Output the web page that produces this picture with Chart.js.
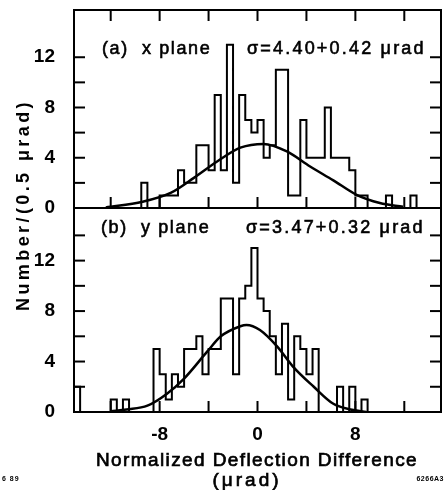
<!DOCTYPE html>
<html>
<head>
<meta charset="utf-8">
<script src="https://cdn.jsdelivr.net/npm/chart.js@4.4.1/dist/chart.umd.min.js"></script>
<style>
  html, body { margin: 0; padding: 0; background: #fff; }
  #wrap { width: 444px; height: 490px; }
</style>
</head>
<body>
<div id="wrap"><canvas id="chart-deflection"></canvas></div>
<script>
// histogram bins are 0.5 urad wide, first left edge at -15
const binStart = -15;
const binWidth = 0.5;

// (a) x plane, counts per bin from -15 to +15
const countsX = [
  0, 0, 0, 0, 0, 0, 0, 0, 0, 0,
  0, 2, 0, 0, 1, 1, 1, 3, 2, 2,
  5, 5, 3, 9, 3, 13, 2, 9, 7, 6,
  7, 4, 5, 11, 11, 1, 1, 7, 4, 4,
  4, 8, 4, 4, 4, 3, 1, 1, 0, 0,
  0, 1, 0, 0, 0, 1, 0, 0, 0, 0
];

// (b) y plane, counts per bin from -15 to +15
const countsY = [
  2, 0, 0, 0, 0, 0, 1, 0, 1, 0,
  0, 0, 0, 5, 3, 1, 3, 2, 5, 5,
  6, 3, 5, 5, 9, 9, 3, 9, 10, 13,
  9, 8, 6, 3, 7, 1, 6, 5, 3, 5,
  0, 0, 0, 2, 0, 2, 0, 1, 0, 0,
  0, 0, 0, 0, 0, 0, 0, 0, 0, 0
];

// fitted gaussians, points
const fitXpos = [-12.4, -9.4, -7.1, -5.2, -3.3, -1.4, 0.5, 2.4, 4.3, 6.2, 8.1, 10.0, 11.9];
const fitXval = [0.05, 0.5, 1.2, 2.4, 3.7, 4.8, 5.1, 4.5, 3.3, 2.2, 1.05, 0.4, 0.1];
const fitYpos = [-12.0, -10.7, -9.0, -7.4, -6.0, -4.1, -3.0, -1.4, -0.9, 0.2, 1.6, 2.9, 4.6, 6.2, 7.6, 8.9];
const fitYval = [0.05, 0.2, 0.5, 1.45, 2.65, 4.8, 6.0, 6.8, 6.9, 6.5, 5.2, 3.6, 2.0, 0.65, 0.2, 0.0];

// axis ticks
const xTicks = [-12, -8, -4, 0, 4, 8, 12];
const xTickLabels = [-8, 0, 8];
const yTicksTop = [2, 4, 6, 8, 10, 12];
const yTicksBottom = [2, 4, 6, 8, 10, 12, 14];
const yTickLabels = [0, 4, 8, 12];

const FONT = '"Liberation Sans", Arial, Helvetica, sans-serif';

// build step outline points: left edge of every bin, closed back to 0 at the end
function histPoints(counts) {
  const pts = [{ x: binStart, y: 0 }];
  counts.forEach((c, i) => pts.push({ x: binStart + i * binWidth, y: c }));
  pts.push({ x: binStart + counts.length * binWidth, y: 0 });
  return pts;
}

function curvePoints(xs, ys) {
  return xs.map((x, i) => ({ x: x, y: ys[i] }));
}

function yAxis(weight, max) {
  return {
    type: "linear",
    position: "left",
    stack: "panels",
    stackWeight: weight,
    min: 0,
    max: max,
    grid: { display: false },
    border: { display: false },
    ticks: {
      stepSize: 2,
      includeBounds: false,
      autoSkip: false,
      padding: 11,
      color: "#000",
      font: { family: FONT, size: 19, weight: "bold" },
      callback: (v) => (yTickLabels.includes(v) ? String(v) : ""),
    },
    afterFit: (s) => {
      s.width = 74;
      s.paddingTop = 0;
      s.paddingBottom = 0;
    },
  };
}

// text with tracking, stroked lightly so it reads as heavy as the scan
function drawSpaced(ctx, text, x, y, font, spacing, align, heavy) {
  ctx.font = font;
  ctx.letterSpacing = spacing + "px";
  ctx.textAlign = align || "left";
  ctx.fillText(text, x, y);
  if (heavy) {
    ctx.lineWidth = heavy;
    ctx.strokeText(text, x, y);
  }
  ctx.letterSpacing = "0px";
}

// frame, inward ticks and the free text
const frameAndText = {
  id: "frameAndText",
  afterDraw(chart) {
    const { ctx, chartArea: a, scales } = chart;
    const sx = scales.x, yT = scales.yTop, yB = scales.yBottom;
    const yDiv = yT.getPixelForValue(0);
    const len = 11;
    const line = (x1, y1, x2, y2) => {
      ctx.beginPath();
      ctx.moveTo(x1, y1);
      ctx.lineTo(x2, y2);
      ctx.stroke();
    };
    ctx.save();
    ctx.strokeStyle = "#000";
    ctx.lineWidth = 2;
    ctx.strokeRect(a.left, a.top, a.right - a.left, a.bottom - a.top);
    line(a.left, yDiv, a.right, yDiv);
    xTicks.forEach((v) => {
      const px = sx.getPixelForValue(v);
      line(px, a.top, px, a.top + len);
      line(px, yDiv, px, yDiv - len);
      line(px, a.bottom, px, a.bottom - len);
    });
    yTicksTop.forEach((v) => {
      const py = yT.getPixelForValue(v);
      line(a.left, py, a.left + len, py);
      line(a.right, py, a.right - len, py);
    });
    yTicksBottom.forEach((v) => {
      const py = yB.getPixelForValue(v);
      line(a.left, py, a.left + len, py);
      line(a.right, py, a.right - len, py);
    });

    ctx.fillStyle = "#000";
    ctx.textBaseline = "alphabetic";
    // panel labels
    drawSpaced(ctx, "(a)  x plane", a.left + 28, a.top + 44, "18px " + FONT, 1.6, "left", 0.6);
    drawSpaced(ctx, "\u03c3=4.40+0.42 \u03bcrad", a.left + 173, a.top + 44, "18px " + FONT, 2.2, "left", 0.6);
    drawSpaced(ctx, "(b)  y plane", a.left + 27, yDiv + 25, "18px " + FONT, 1.6, "left", 0.6);
    drawSpaced(ctx, "\u03c3=3.47+0.32 \u03bcrad", a.left + 172, yDiv + 25, "18px " + FONT, 2.2, "left", 0.6);

    // x axis title
    drawSpaced(ctx, "Normalized Deflection Difference", 257, 466, "19px " + FONT, 1.4, "center", 0.7);
    drawSpaced(ctx, "(\u03bcrad)", 247, 486, "19px " + FONT, 3, "center", 0.7);

    // y axis title
    ctx.save();
    ctx.translate(29, 205);
    ctx.rotate(-Math.PI / 2);
    drawSpaced(ctx, "Number/(0.5 \u03bcrad)", 0, 0, "bold 18px " + FONT, 3.4, "center");
    ctx.restore();

    // corner marks
    drawSpaced(ctx, "6 89", 2, 481, "bold 7px " + FONT, 1, "left");
    drawSpaced(ctx, "6266A3", 444, 481, "bold 7px " + FONT, 0.5, "right");
    ctx.restore();
  },
};

const ctxDeflection = document.getElementById("chart-deflection");
new Chart(ctxDeflection, {
  type: "line",
  data: {
    datasets: [
      {
        label: "x plane",
        data: histPoints(countsX),
        yAxisID: "yTop",
        stepped: true,
        borderColor: "#000",
        borderWidth: 2,
        pointRadius: 0,
        fill: false,
      },
      {
        label: "x fit",
        data: curvePoints(fitXpos, fitXval),
        yAxisID: "yTop",
        cubicInterpolationMode: "monotone",
        borderColor: "#000",
        borderWidth: 2.5,
        pointRadius: 0,
        fill: false,
      },
      {
        label: "y plane",
        data: histPoints(countsY),
        yAxisID: "yBottom",
        stepped: true,
        borderColor: "#000",
        borderWidth: 2,
        pointRadius: 0,
        fill: false,
      },
      {
        label: "y fit",
        data: curvePoints(fitYpos, fitYval),
        yAxisID: "yBottom",
        cubicInterpolationMode: "monotone",
        borderColor: "#000",
        borderWidth: 2.5,
        pointRadius: 0,
        fill: false,
      },
    ],
  },
  options: {
    responsive: true,
    maintainAspectRatio: false,
    animation: false,
    layout: { padding: { top: 10, right: 3, left: 0, bottom: 0 } },
    plugins: {
      legend: { display: false },
      tooltip: { enabled: false },
    },
    scales: {
      x: {
        type: "linear",
        min: -15,
        max: 15,
        grid: { display: false },
        border: { display: false },
        ticks: {
          stepSize: 4,
          includeBounds: false,
          autoSkip: false,
          maxRotation: 0,
          padding: 3,
          color: "#000",
          font: { family: FONT, size: 19, weight: "bold" },
          callback: (v) => (xTickLabels.includes(v) ? String(v) : ""),
        },
        afterFit: (s) => {
          s.height = 78;
          s.paddingLeft = 0;
          s.paddingRight = 0;
        },
      },
      yBottom: yAxis(204, 16.17),
      yTop: yAxis(198, 15.76),
    },
  },
  plugins: [frameAndText],
});
</script>
</body>
</html>
